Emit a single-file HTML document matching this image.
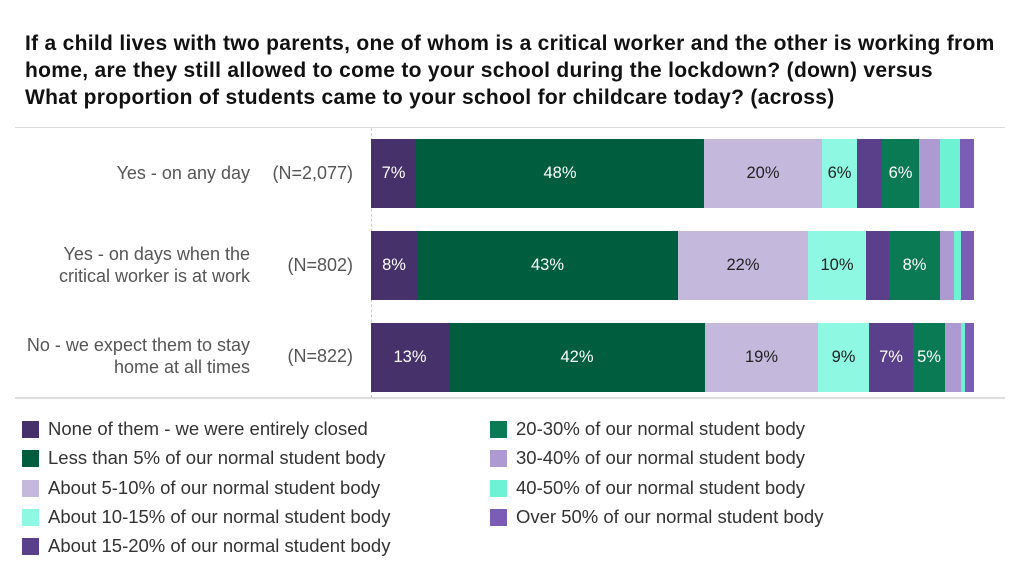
<!DOCTYPE html>
<html><head><meta charset="utf-8"><style>
body{margin:0;background:#fff;width:1024px;height:585px;overflow:hidden;font-family:"Liberation Sans",sans-serif;color:#222;position:relative}
.t{position:absolute;left:25px;top:30px;font-size:21px;font-weight:bold;line-height:27px;color:#111;letter-spacing:0.3px;white-space:nowrap}
.a{position:absolute}
.seg{position:absolute;display:flex;align-items:center;justify-content:center;font-size:16.5px}
.lab{position:absolute;text-align:right;font-size:18px;color:#555;line-height:22px;white-space:nowrap}
.lg{position:absolute;font-size:18.5px;color:#333;display:flex;align-items:center;white-space:nowrap}
.lg i{display:inline-block;width:17px;height:17px;margin-right:9px}
</style></head><body>
<div class="t">If a child lives with two parents, one of whom is a critical worker and the other is working from<br>home, are they still allowed to come to your school during the lockdown? (down) versus<br>What proportion of students came to your school for childcare today? (across)</div>
<div class="a" style="left:15px;top:127px;width:990px;height:1px;background:#ddd"></div>
<div class="a" style="left:15px;top:397px;width:990px;height:2px;background:#ddd"></div>
<div class="a" style="left:371px;top:128px;height:270px;border-left:1px dashed #ccc"></div>

<div class="lab" style="right:774px;top:162px">Yes - on any day</div>
<div class="lab" style="right:671px;top:162px">(N=2,077)</div>
<div class="lab" style="right:774px;top:243px">Yes - on days when the<br>critical worker is at work</div>
<div class="lab" style="right:671px;top:254px">(N=802)</div>
<div class="lab" style="right:774px;top:334px">No - we expect them to stay<br>home at all times</div>
<div class="lab" style="right:671px;top:345px">(N=822)</div>

<div id="bars"></div>
<script>
var cols=["#46316b","#005e3e","#c5b8dd","#8ef8e2","#5a3f8a","#0a7a55","#ad9ad2","#6ef2d4","#7b5db5"];
var txt=["#fff","#fff","#222","#222","#fff","#fff","#222","#222","#fff"];
var rows=[
 {y:139,b:[371,416,704,822,857,882,919,940,960,974],l:["7%","48%","20%","6%","","6%","","",""]},
 {y:231,b:[371,417,678,808,866,889,940,954,961,974],l:["8%","43%","22%","10%","","8%","","",""]},
 {y:323,b:[371,449,705,818,869,913,945,961,965,974],l:["13%","42%","19%","9%","7%","5%","","",""]}];
var h="";
rows.forEach(function(r){for(var i=0;i<9;i++){h+='<div class="seg" style="left:'+r.b[i]+'px;top:'+r.y+'px;width:'+(r.b[i+1]-r.b[i])+'px;height:69px;background:'+cols[i]+';color:'+txt[i]+'">'+r.l[i]+'</div>';}});
document.getElementById("bars").innerHTML=h;
</script>

<div class="lg" style="left:22px;top:418px"><i style="background:#46316b"></i>None of them - we were entirely closed</div>
<div class="lg" style="left:22px;top:447px"><i style="background:#005e3e"></i>Less than 5% of our normal student body</div>
<div class="lg" style="left:22px;top:477px"><i style="background:#c5b8dd"></i>About 5-10% of our normal student body</div>
<div class="lg" style="left:22px;top:506px"><i style="background:#8ef8e2"></i>About 10-15% of our normal student body</div>
<div class="lg" style="left:22px;top:535px"><i style="background:#5a3f8a"></i>About 15-20% of our normal student body</div>
<div class="lg" style="left:490px;top:418px"><i style="background:#0a7a55"></i>20-30% of our normal student body</div>
<div class="lg" style="left:490px;top:447px"><i style="background:#ad9ad2"></i>30-40% of our normal student body</div>
<div class="lg" style="left:490px;top:477px"><i style="background:#6ef2d4"></i>40-50% of our normal student body</div>
<div class="lg" style="left:490px;top:506px"><i style="background:#7b5db5"></i>Over 50% of our normal student body</div>
</body></html>
